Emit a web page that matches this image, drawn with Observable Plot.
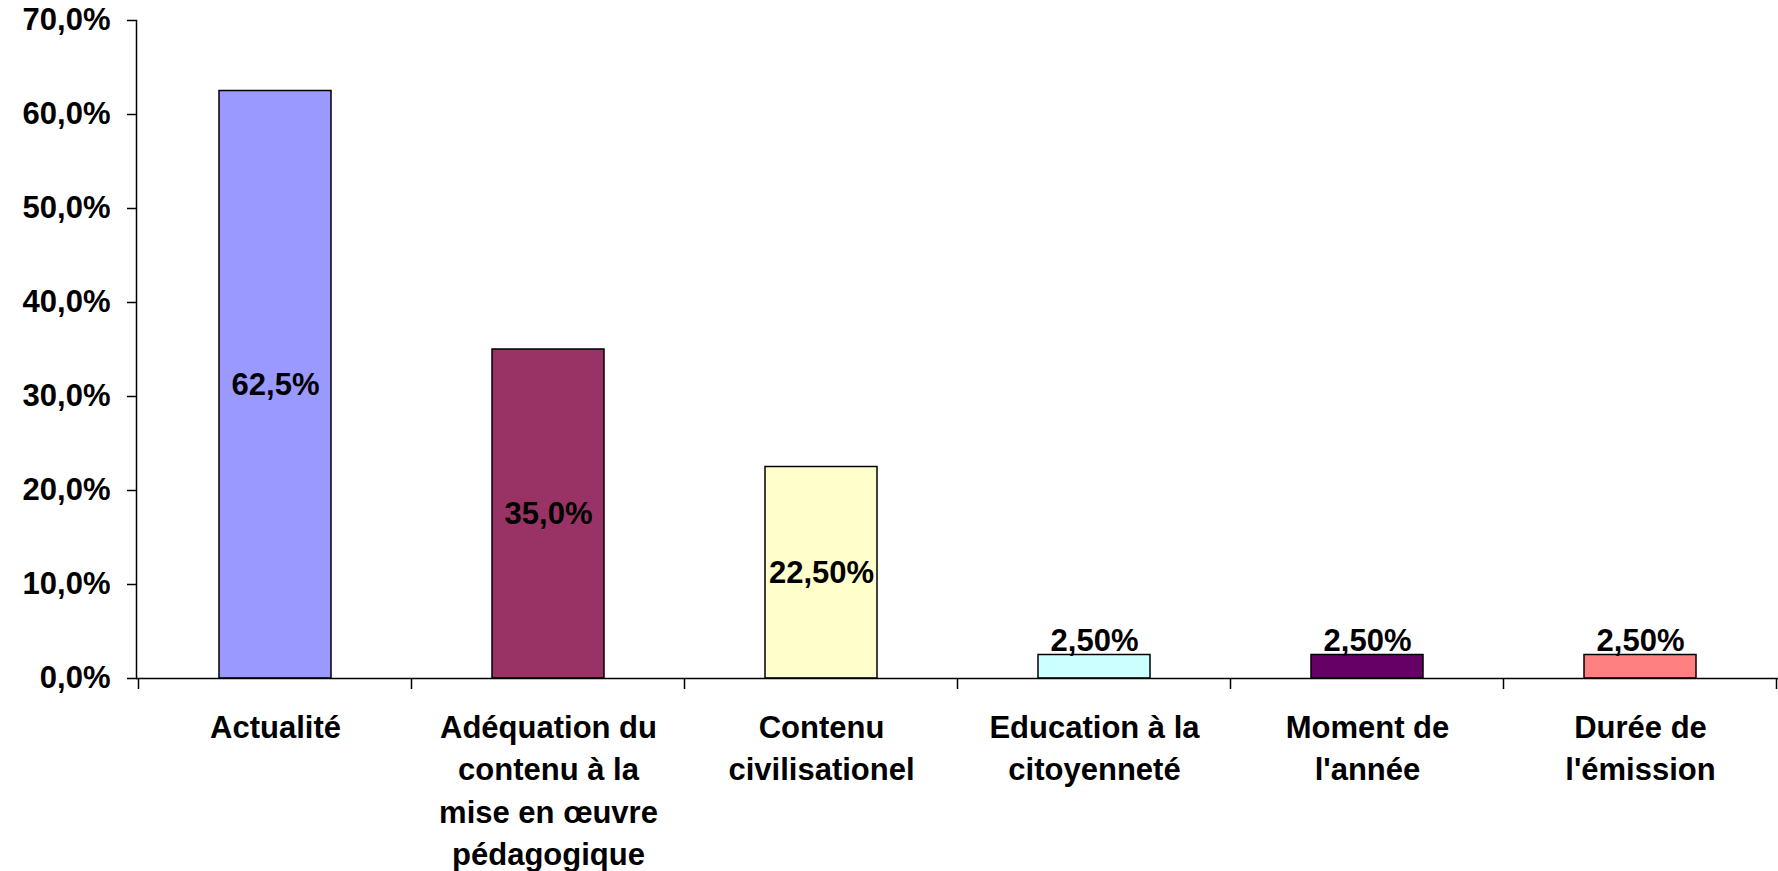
<!DOCTYPE html>
<html><head><meta charset="utf-8">
<script src="https://cdn.jsdelivr.net/npm/d3@7"></script>
<script src="https://cdn.jsdelivr.net/npm/@observablehq/plot@0.6"></script>
<style>body{margin:0;background:#fff} svg{display:block}</style>
</head><body><div id="chart"></div>
<script>
const categories = ["Actualité", "Adéquation du contenu à la mise en œuvre pédagogique", "Contenu civilisationel", "Education à la citoyenneté", "Moment de l'année", "Durée de l'émission"];
const tickLabels = ["Actualité", "Adéquation du\ncontenu à la\nmise en œuvre\npédagogique", "Contenu\ncivilisationel", "Education à la\ncitoyenneté", "Moment de\nl'année", "Durée de\nl'émission"];
const values = [0.625, 0.35, 0.225, 0.025, 0.025, 0.025];
const valueLabels = ["62,5%", "35,0%", "22,50%", "2,50%", "2,50%", "2,50%"];
const colors = ["#9999FF", "#993366", "#FFFFCC", "#CCFFFF", "#660066", "#FF8080"];
const yTicks = [0, 0.1, 0.2, 0.3, 0.4, 0.5, 0.6, 0.7];
const yTickLabels = ["0,0%", "10,0%", "20,0%", "30,0%", "40,0%", "50,0%", "60,0%", "70,0%"];

const data = categories.map((c, i) => ({category: c, value: values[i], label: valueLabels[i]}));
const inside = data.filter(d => d.value >= 0.1);
const above = data.filter(d => d.value < 0.1);

const plot = Plot.plot({
  width: 1778, height: 871,
  marginLeft: 136, marginRight: 0, marginTop: 20, marginBottom: 193,
  style: {fontFamily: "'Liberation Sans', Arial, sans-serif", fontWeight: "bold", fontSize: "31px", color: "#000", background: "#fff", overflow: "visible"},
  x: {domain: categories, paddingInner: 0.59, paddingOuter: 0.295},
  y: {domain: [0, 0.7]},
  color: {domain: categories, range: colors},
  marks: [
    Plot.barY(data, {x: "category", y: "value", fill: "category", stroke: "#000", strokeWidth: 1.5}),
    Plot.ruleY([0], {stroke: "#000", strokeWidth: 1.5}),
    Plot.frame({anchor: "left", stroke: "#000", strokeWidth: 1.5}),
    Plot.axisY({ticks: yTicks, tickSize: 9, tickPadding: 17, label: null, stroke: "#000", strokeWidth: 1.5,
      tickFormat: d => yTickLabels[yTicks.findIndex(t => Math.abs(t - d) < 1e-9)], fontSize: 31}),
    Plot.axisX({tickSize: 0, tickPadding: 29, label: null, lineHeight: 1.37, fontSize: 31,
      tickFormat: c => tickLabels[categories.indexOf(c)]}),
    Plot.text(inside, {x: "category", y: d => d.value / 2, text: "label", fontSize: 31, fill: "#000"}),
    Plot.text(above, {x: "category", y: "value", text: "label", dy: -14, fontSize: 31, fill: "#000"})
  ]
});

// category boundary ticks under the x axis, from the library's own x/y scales
const sx = plot.scale("x"), sy = plot.scale("y");
const step = sx.step !== undefined ? sx.step : (sx.range[1] - sx.range[0]) / sx.domain.length;
const gap = (step - sx.bandwidth) / 2;
const bounds = categories.map(c => sx.apply(c) - gap);
bounds.push(bounds[bounds.length - 1] + step);
const y0 = sy.apply(0);
d3.select(plot).append("g").attr("stroke", "#000").attr("stroke-width", 1.5)
  .selectAll("line").data(bounds).join("line")
  .attr("x1", d => d).attr("x2", d => d).attr("y1", y0).attr("y2", y0 + 11);

document.getElementById("chart").appendChild(plot);
</script>
</body></html>
